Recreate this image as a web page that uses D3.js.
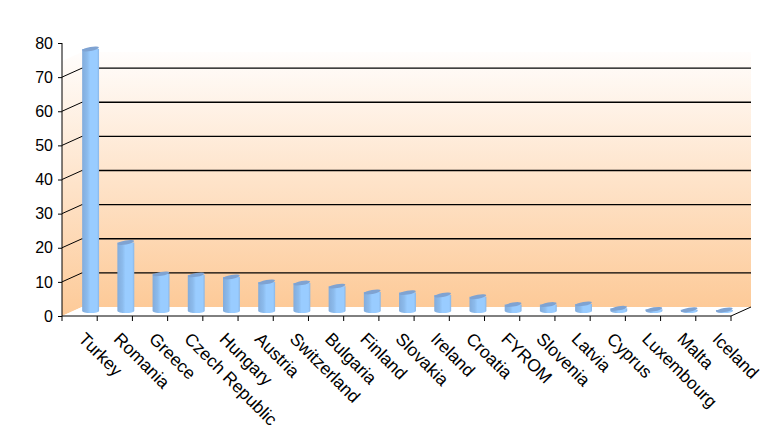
<html>
<head>
<script src="https://d3js.org/d3.v7.min.js"></script>
<style>
  body { margin: 0; background: #fff; }
  text { font-family: "Liberation Sans", Arial, sans-serif; fill: #000; }
</style>
</head>
<body>
<div id="vis"></div>
<script>
  // data
  var countries = ["Turkey", "Romania", "Greece", "Czech Republic", "Hungary", "Austria",
    "Switzerland", "Bulgaria", "Finland", "Slovakia", "Ireland", "Croatia", "FYROM",
    "Slovenia", "Latvia", "Cyprus", "Luxembourg", "Malta", "Iceland"]
  var values = [76.8, 20.1, 10.9, 10.6, 10.0, 8.5, 8.2, 7.3, 5.6, 5.4, 4.7, 4.2, 1.9,
    1.9, 2.1, 0.8, 0.5, 0.4, 0.3]
  var yTicks = [0, 10, 20, 30, 40, 50, 60, 70, 80]

  var width = 778, height = 436
  // plot area (front plane)
  var pLeft = 62, pRight = 731, pBottom = 316, pTop = 43
  var depth = {dx: 20, dy: -9}
  var barShift = 0.55

  var svg = d3.select("#vis").append("svg")
    .attr("width", width)
    .attr("height", height)

  var defs = svg.append("defs")
  var wallGrad = defs.append("linearGradient")
    .attr("id", "wall").attr("x1", 0).attr("y1", 0).attr("x2", 0).attr("y2", 1)
  wallGrad.append("stop").attr("offset", "0%").attr("stop-color", "#fffdfc")
  wallGrad.append("stop").attr("offset", "100%").attr("stop-color", "#fdca98")

  var barGrad = defs.append("linearGradient")
    .attr("id", "bar").attr("x1", 0).attr("y1", 0).attr("x2", 1).attr("y2", 0)
  barGrad.append("stop").attr("offset", "0%").attr("stop-color", "#82acdc")
  barGrad.append("stop").attr("offset", "30%").attr("stop-color", "#8cbbec")
  barGrad.append("stop").attr("offset", "48%").attr("stop-color", "#99ccff")
  barGrad.append("stop").attr("offset", "88%").attr("stop-color", "#99ccff")
  barGrad.append("stop").attr("offset", "100%").attr("stop-color", "#8ab6e6")

  var x = d3.scaleBand().domain(countries).range([pLeft, pRight]).padding(0)
  var y = d3.scaleLinear().domain([0, 80]).range([pBottom, pTop])

  var wallTop = y(80) - depth.dy

  // side wall
  svg.append("path")
    .attr("d", "M" + pLeft + "," + y(0) + "L" + (pLeft + depth.dx) + "," + (y(0) + depth.dy) +
      "L" + (pLeft + depth.dx) + "," + wallTop + "L" + pLeft + "," + (wallTop - depth.dy) + "Z")
    .attr("fill", "url(#wall)")

  // back wall
  svg.append("rect")
    .attr("x", pLeft + depth.dx)
    .attr("y", wallTop)
    .attr("width", pRight - pLeft)
    .attr("height", y(0) + depth.dy - wallTop)
    .attr("fill", "url(#wall)")

  // gridlines on back wall and side wall
  var grid = yTicks.filter(function(d) { return d > 0 && d < 80 })
  svg.selectAll(".grid").data(grid).enter().append("line")
    .attr("x1", pLeft + depth.dx).attr("x2", pRight + depth.dx)
    .attr("y1", function(d) { return y(d) + depth.dy })
    .attr("y2", function(d) { return y(d) + depth.dy })
    .attr("stroke", "#000").attr("stroke-width", 1.3)
  svg.selectAll(".diag").data(grid).enter().append("line")
    .attr("x1", pLeft).attr("x2", pLeft + depth.dx)
    .attr("y1", function(d) { return y(d) })
    .attr("y2", function(d) { return y(d) + depth.dy })
    .attr("stroke", "#000").attr("stroke-width", 1)

  // floor
  svg.append("path")
    .attr("d", "M" + pLeft + "," + y(0) + "L" + pRight + "," + y(0) +
      "L" + (pRight + depth.dx) + "," + (y(0) + depth.dy) + "L" + (pLeft + depth.dx) + "," + (y(0) + depth.dy) + "Z")
    .attr("fill", "#fff")
  svg.append("line")
    .attr("x1", pRight).attr("y1", y(0))
    .attr("x2", pRight + depth.dx).attr("y2", y(0) + depth.dy)
    .attr("stroke", "#000").attr("stroke-width", 1)

  // bars (cylinders)
  var bw = x.bandwidth() * 0.48
  var ry = 2
  var bars = svg.selectAll(".bar").data(countries).enter().append("g")
  bars.each(function(c, i) {
    var g = d3.select(this)
    var cx = x(c) + x.bandwidth() / 2 + depth.dx * barShift
    var base = y(0) + depth.dy * barShift
    var topY = y(values[i]) + depth.dy * barShift
    var rx = bw / 2
    g.append("path")
      .attr("d", "M" + (cx - rx) + "," + topY + "L" + (cx - rx) + "," + base +
        "A" + rx + "," + ry + " 0 0 0 " + (cx + rx) + "," + base +
        "L" + (cx + rx) + "," + topY + "Z")
      .attr("fill", "url(#bar)")
    g.append("ellipse")
      .attr("cx", cx).attr("cy", topY)
      .attr("rx", rx).attr("ry", ry)
      .attr("transform", "rotate(-10," + cx + "," + topY + ")")
      .attr("fill", "#7fa3d2")
  })

  // y axis
  svg.append("g")
    .attr("transform", "translate(" + pLeft + ",0)")
    .call(d3.axisLeft(y).tickValues(yTicks).tickSize(4).tickPadding(5))
    .call(function(g) {
      g.selectAll("text").style("font-size", "16px").attr("fill", "#000")
        .style("font-family", "'Liberation Sans', Arial, sans-serif")
      g.selectAll("line, path").attr("stroke", "#000")
      g.select(".domain").attr("d", "M0," + y(0) + "V" + y(80))
    })

  // x axis
  svg.append("line")
    .attr("x1", pLeft).attr("x2", pRight)
    .attr("y1", y(0)).attr("y2", y(0))
    .attr("stroke", "#000")
  svg.selectAll(".xtick").data(countries.concat(["_end"])).enter().append("line")
    .attr("x1", function(d) { return d === "_end" ? pRight : x(d) })
    .attr("x2", function(d) { return d === "_end" ? pRight : x(d) })
    .attr("y1", y(0)).attr("y2", y(0) + 5)
    .attr("stroke", "#000")

  svg.selectAll(".xlab").data(countries).enter().append("text")
    .attr("transform", function(d) {
      return "translate(" + (x(d) + x.bandwidth() / 2 - 2) + "," + (y(0) + 24) + ") rotate(45)"
    })
    .style("font-size", "17.5px")
    .text(function(d) { return d })
</script>
</body>
</html>
